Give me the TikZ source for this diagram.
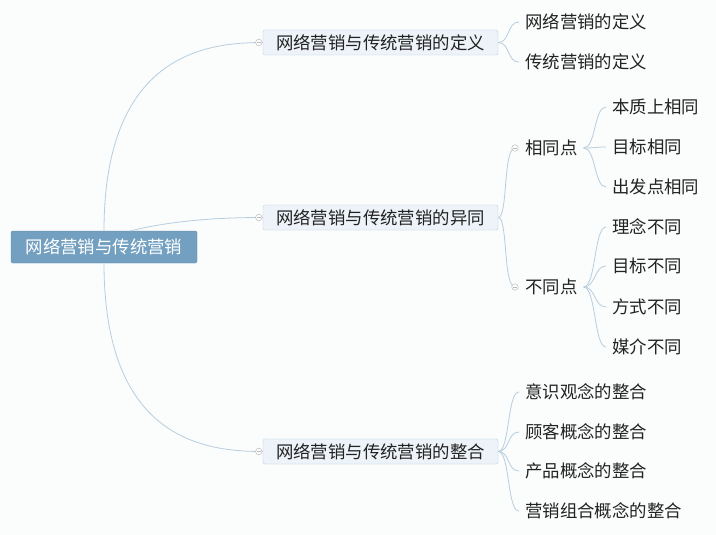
\documentclass[tikz,border=0pt]{standalone}
\usepackage{fontspec}
\setmainfont{Noto Sans CJK SC}
\definecolor{bgc}{HTML}{FBFCFC}
\definecolor{rootc}{HTML}{73A0C0}
\definecolor{boxfill}{HTML}{EDF3F8}
\definecolor{boxline}{HTML}{BCD2E3}
\definecolor{linkc}{HTML}{B7CEDF}
\definecolor{txt}{HTML}{222222}
\definecolor{knob}{HTML}{BBBBBB}
\tikzset{
  rootbox/.style={fill=rootc, draw=rootc!85!black, rounded corners=2pt, text=white,
    minimum width=186pt, minimum height=32pt, inner sep=0pt, font=\fontsize{17.4}{17.4}\selectfont},
  branchbox/.style={fill=boxfill, draw=boxline, rounded corners=2pt, text=txt,
    minimum width=235pt, minimum height=25pt, inner sep=0pt, font=\fontsize{17.4}{17.4}\selectfont},
  leaf/.style={anchor=west, inner sep=0pt, text=txt, font=\fontsize{17.4}{17.4}\selectfont},
  link/.style={draw=linkc, line width=0.8pt},
  knobc/.style={circle, draw=knob, fill=white, line width=0.5pt, minimum size=6.5pt, inner sep=0pt,
    path picture={\draw[knob, line width=0.5pt] ([xshift=-2pt]path picture bounding box.center) -- ([xshift=2pt]path picture bounding box.center);}}
}
\begin{document}
\begin{tikzpicture}[x=1pt,y=-1pt]
\useasboundingbox (0,0) rectangle (716,535);
\fill[bgc] (0,0) rectangle (716,535);

% root and branches
\node[rootbox] (root) at (104,247) {网络营销与传统营销};
\node[branchbox] (b1) at (380.5,42.5) {网络营销与传统营销的定义};
\node[branchbox] (b2) at (380.5,217.5) {网络营销与传统营销的异同};
\node[branchbox] (b3) at (380.5,451.5) {网络营销与传统营销的整合};

\coordinate (r1) at (104,231);
\coordinate (r2) at (130,231);
\coordinate (r3) at (104,263);

\draw[link] (r1) .. controls (104,55) and (205,42.5) .. (b1.west);
\draw[link] (r2) .. controls (170,221) and (215,217.5) .. (b2.west);
\draw[link] (r3) .. controls (104,440) and (205,451.5) .. (b3.west);

% branch 1 leaves
\node[leaf] (l11) at (525,22) {网络营销的定义};
\node[leaf] (l12) at (525,62) {传统营销的定义};
\foreach \n in {l11,l12}{
  \draw[link] (b1.east) .. controls (510,42.5) and (507,0|-\n.west) .. ([xshift=-6pt]\n.west);
}

% branch 2 sub-branches
\node[leaf] (s1) at (525,148) {相同点};
\node[leaf] (s2) at (525,287) {不同点};
\foreach \n in {s1,s2}{
  \draw[link] (b2.east) .. controls (508,217.5) and (503,0|-\n.west) .. ([xshift=-10pt]\n.west);
}

\node[leaf] (a1) at (612,107) {本质上相同};
\node[leaf] (a2) at (612,147) {目标相同};
\node[leaf] (a3) at (612,187) {出发点相同};
\foreach \n in {a1,a2,a3}{
  \draw[link] ([xshift=6pt]s1.east) .. controls (596,148) and (594,0|-\n.west) .. ([xshift=-6pt]\n.west);
}

\node[leaf] (d1) at (612,227) {理念不同};
\node[leaf] (d2) at (612,266) {目标不同};
\node[leaf] (d3) at (612,307) {方式不同};
\node[leaf] (d4) at (612,347) {媒介不同};
\foreach \n in {d1,d2,d3,d4}{
  \draw[link] ([xshift=6pt]s2.east) .. controls (596,287) and (594,0|-\n.west) .. ([xshift=-6pt]\n.west);
}

% branch 3 leaves
\node[leaf] (c1) at (525,392) {意识观念的整合};
\node[leaf] (c2) at (525,432) {顾客概念的整合};
\node[leaf] (c3) at (525,471) {产品概念的整合};
\node[leaf] (c4) at (525,511) {营销组合概念的整合};
\foreach \n in {c1,c2,c3,c4}{
  \draw[link] (b3.east) .. controls (510,451.5) and (507,0|-\n.west) .. ([xshift=-6pt]\n.west);
}

% collapse knobs
\node[knobc] (k1) at ([xshift=-4pt]b1.west) {};
\node[knobc] (k2) at ([xshift=-4pt]b2.west) {};
\node[knobc] (k3) at ([xshift=-4pt]b3.west) {};
\node[knobc] (k4) at ([xshift=-10pt]s1.west) {};
\node[knobc] (k5) at ([xshift=-10pt]s2.west) {};
\end{tikzpicture}
\end{document}
